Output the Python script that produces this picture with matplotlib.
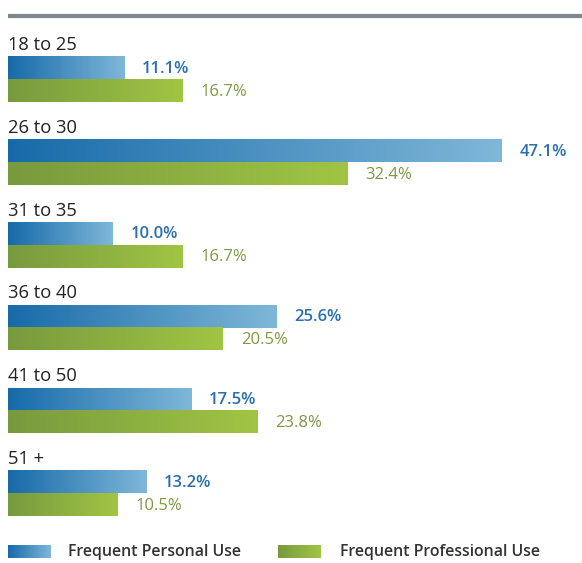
import numpy as np
import matplotlib.pyplot as plt
from matplotlib.colors import LinearSegmentedColormap

# Age groups and share of respondents (%)
age_groups = ["18 to 25", "26 to 30", "31 to 35", "36 to 40", "41 to 50", "51 +"]
personal_use = [11.1, 47.1, 10.0, 25.6, 17.5, 13.2]
professional_use = [16.7, 32.4, 16.7, 20.5, 23.8, 10.5]

W, H = 582, 563
px_per_pct = 10.47
left = 8

blue_cmap = LinearSegmentedColormap.from_list("blue", ["#176aa9", "#7fb7d8"])
green_cmap = LinearSegmentedColormap.from_list("green", ["#789a3e", "#a0c544"])
blue_text = "#2a70ae"
green_text = "#7c9b40"

plt.rcParams['font.family'] = ['Open Sans', 'DejaVu Sans']

fig = plt.figure(figsize=(W / 100, H / 100), dpi=100)
ax = fig.add_axes([left / W, 0, 1 - left / W, 1])
ax.axis("off")

grad = np.linspace(0, 1, 256).reshape(1, -1)


def gradient_bar(x0, x1, top, bottom, cmap):
    ax.imshow(grad, cmap=cmap, aspect="auto",
              extent=(x0, x1, bottom, top), interpolation="bicubic")


# grey rule across the top
ax.plot([0, (W - left) / px_per_pct], [15.5, 15.5], color="#7d8891", lw=3,
        solid_capstyle="butt")

bar_h = 22.5
gap_pct = 18 / px_per_pct
for i, (grp, p, q) in enumerate(zip(age_groups, personal_use, professional_use)):
    top = 57 + 82.8 * i
    ax.text(0, top - 12, grp, fontsize=13.2, color="#222222", va="center", ha="left")
    gradient_bar(0, p, top, top + bar_h, blue_cmap)
    gradient_bar(0, q, top + bar_h, top + 2 * bar_h, green_cmap)
    ax.text(p + gap_pct, top + bar_h / 2 + 0.5, f"{p:.1f}%", fontsize=12,
            color=blue_text, fontweight="semibold", va="center", ha="left")
    ax.text(q + gap_pct, top + bar_h * 1.5 + 1, f"{q:.1f}%", fontsize=12,
            color=green_text, va="center", ha="left")

# legend
legend_y = 552
for x0, cmap, label, tx in [(0, blue_cmap, "Frequent Personal Use", 60),
                            (270, green_cmap, "Frequent Professional Use", 332)]:
    gradient_bar(x0 / px_per_pct, (x0 + 43) / px_per_pct,
                 legend_y - 7, legend_y + 6, cmap)
    ax.text(tx / px_per_pct, legend_y, label, fontsize=11.4, color="#333333",
            fontweight="semibold", va="center", ha="left")

ax.set_xlim(0, (W - left) / px_per_pct)
ax.set_ylim(H, 0)
fig.savefig("out.png", dpi=100)
